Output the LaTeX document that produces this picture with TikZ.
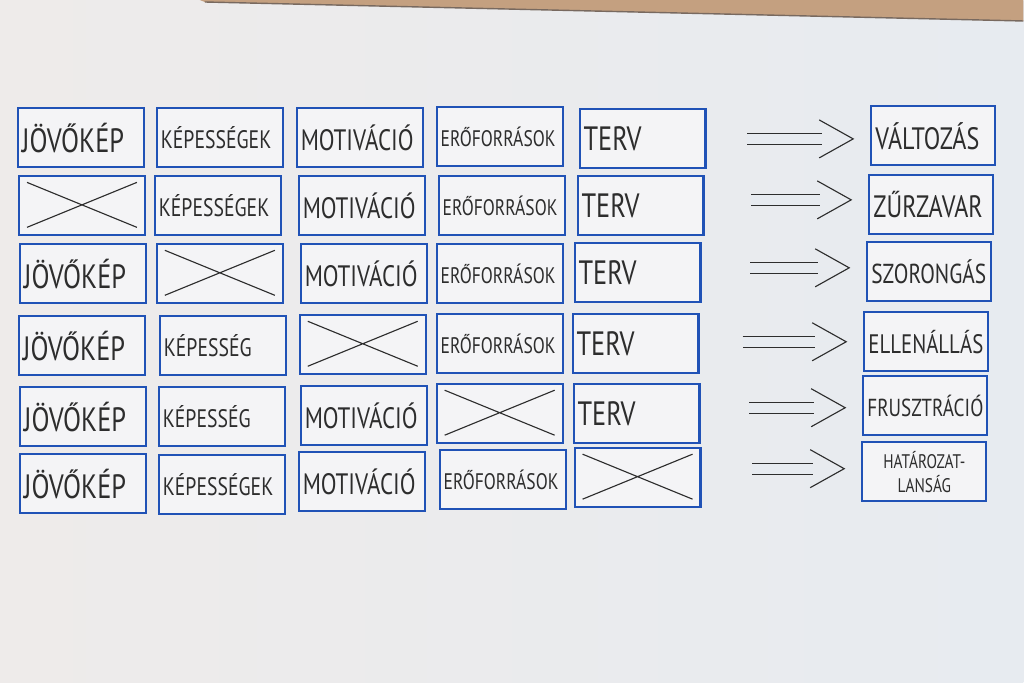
\documentclass[tikz,border=0pt]{standalone}
\usepackage{fontspec}
\setmainfont{PT Sans}[FakeStretch=0.78]
\usetikzlibrary{arrows.meta}

\definecolor{boardL}{RGB}{238,235,234}
\definecolor{boardR}{RGB}{231,235,240}
\definecolor{cardfill}{RGB}{244,244,246}
\definecolor{cardblue}{RGB}{32,82,182}
\definecolor{ink}{RGB}{45,45,45}
\definecolor{trim}{RGB}{196,160,128}
\definecolor{trimdark}{RGB}{120,105,95}

\tikzset{
  card/.style={draw=cardblue, line width=1.5pt, fill=cardfill, text=ink,
    minimum height=1.475cm, text width=2.95cm, inner xsep=0.1cm, inner ysep=0pt,
    align=left, font=\fontsize{24}{26}\selectfont},
  crossed/.style={card, path picture={
    \draw[ink, line width=0.8pt]
      ([shift={(0.2cm,-0.15cm)}]path picture bounding box.north west) --
      ([shift={(-0.2cm,0.2cm)}]path picture bounding box.south east)
      ([shift={(0.2cm,0.2cm)}]path picture bounding box.south west) --
      ([shift={(-0.2cm,-0.15cm)}]path picture bounding box.north east);}},
  result/.style={card, text width=2.9cm, font=\fontsize{22}{24}\selectfont},
  longword/.style={font=\fontsize{18}{20}\selectfont},
  motiv/.style={font=\fontsize{21}{23}\selectfont},
  resource/.style={font=\fontsize{16}{18}\selectfont},
  leadsto/.style={draw=boardR, line width=0.8pt, shorten >=0.4cm,
    -{Straight Barb[length=0.85cm, width=0.95cm, color=ink, line width=0.8pt]},
    preaction={draw=ink, -, double=boardR, double distance=7pt, shorten >=1.2cm}}
}

\begin{document}
\begin{tikzpicture}[x=0.025cm, y=-0.025cm]
    % board
    \shade[left color=boardL, right color=boardR] (0,0) rectangle (1024,683);
    \fill[trim] (200,0) -- (1024,0) -- (1024,21) -- (205,2) -- cycle;
    \draw[trimdark, line width=1pt] (205,2) -- (1024,21);

    % row 1
    \node[card] (r1c1) at (81,138) {JÖVŐKÉP};
    \node[card, longword] (r1c2) at (220,138) {KÉPESSÉGEK};
    \node[card, motiv] (r1c3) at (360,138) {MOTIVÁCIÓ};
    \node[card, resource] (r1c4) at (500,137) {ERŐFORRÁSOK};
    \node[card] (r1c5) at (643,139) {TERV};
    % row 2
    \node[crossed] (r2c1) at (82,206) {};
    \node[card, longword] (r2c2) at (218,206) {KÉPESSÉGEK};
    \node[card, motiv] (r2c3) at (362,206) {MOTIVÁCIÓ};
    \node[card, resource] (r2c4) at (502,206) {ERŐFORRÁSOK};
    \node[card] (r2c5) at (641,206) {TERV};
    % row 3
    \node[card] (r3c1) at (83,274) {JÖVŐKÉP};
    \node[crossed] (r3c2) at (220,274) {};
    \node[card, motiv] (r3c3) at (364,274) {MOTIVÁCIÓ};
    \node[card, resource] (r3c4) at (500,274) {ERŐFORRÁSOK};
    \node[card] (r3c5) at (638,273) {TERV};
    % row 4
    \node[card] (r4c1) at (82,346) {JÖVŐKÉP};
    \node[card, longword] (r4c2) at (223,346) {KÉPESSÉG};
    \node[crossed] (r4c3) at (363,345) {};
    \node[card, resource] (r4c4) at (500,344) {ERŐFORRÁSOK};
    \node[card] (r4c5) at (636,344) {TERV};
    % row 5
    \node[card] (r5c1) at (83,417) {JÖVŐKÉP};
    \node[card, longword] (r5c2) at (222,417) {KÉPESSÉG};
    \node[card, motiv] (r5c3) at (364,416) {MOTIVÁCIÓ};
    \node[crossed] (r5c4) at (500,414) {};
    \node[card] (r5c5) at (637,414) {TERV};
    % row 6
    \node[card] (r6c1) at (83,484) {JÖVŐKÉP};
    \node[card, longword] (r6c2) at (222,485) {KÉPESSÉGEK};
    \node[card, motiv] (r6c3) at (362,482) {MOTIVÁCIÓ};
    \node[card, resource] (r6c4) at (503,480) {ERŐFORRÁSOK};
    \node[crossed] (r6c5) at (638,478) {};

    % outcomes
    \node[result] (out1) at (934,136) {VÁLTOZÁS};
    \node[result] (out2) at (932,205) {ZŰRZAVAR};
    \node[result, font=\fontsize{19.5}{21}\selectfont] (out3) at (930,272) {SZORONGÁS};
    \node[result, font=\fontsize{19}{21}\selectfont] (out4) at (927,342) {ELLENÁLLÁS};
    \node[result, font=\fontsize{17.5}{19}\selectfont] (out5) at (926,406) {FRUSZTRÁCIÓ};
    \node[result, align=center, font=\fontsize{14}{17}\selectfont] (out6) at (925,472) {HATÁROZAT-\\LANSÁG};

    % arrows
    \coordinate (a1) at (748,139);
    \coordinate (a2) at (752,200);
    \coordinate (a3) at (751,268);
    \coordinate (a4) at (743,342);
    \coordinate (a5) at (750,408);
    \coordinate (a6) at (753,469);
    \draw[leadsto] (a1) -- (a1 -| out1.west);
    \draw[leadsto] (a2) -- (a2 -| out2.west);
    \draw[leadsto] (a3) -- (a3 -| out3.west);
    \draw[leadsto] (a4) -- (a4 -| out4.west);
    \draw[leadsto] (a5) -- (a5 -| out5.west);
    \draw[leadsto] (a6) -- (a6 -| out6.west);
\end{tikzpicture}
\end{document}
